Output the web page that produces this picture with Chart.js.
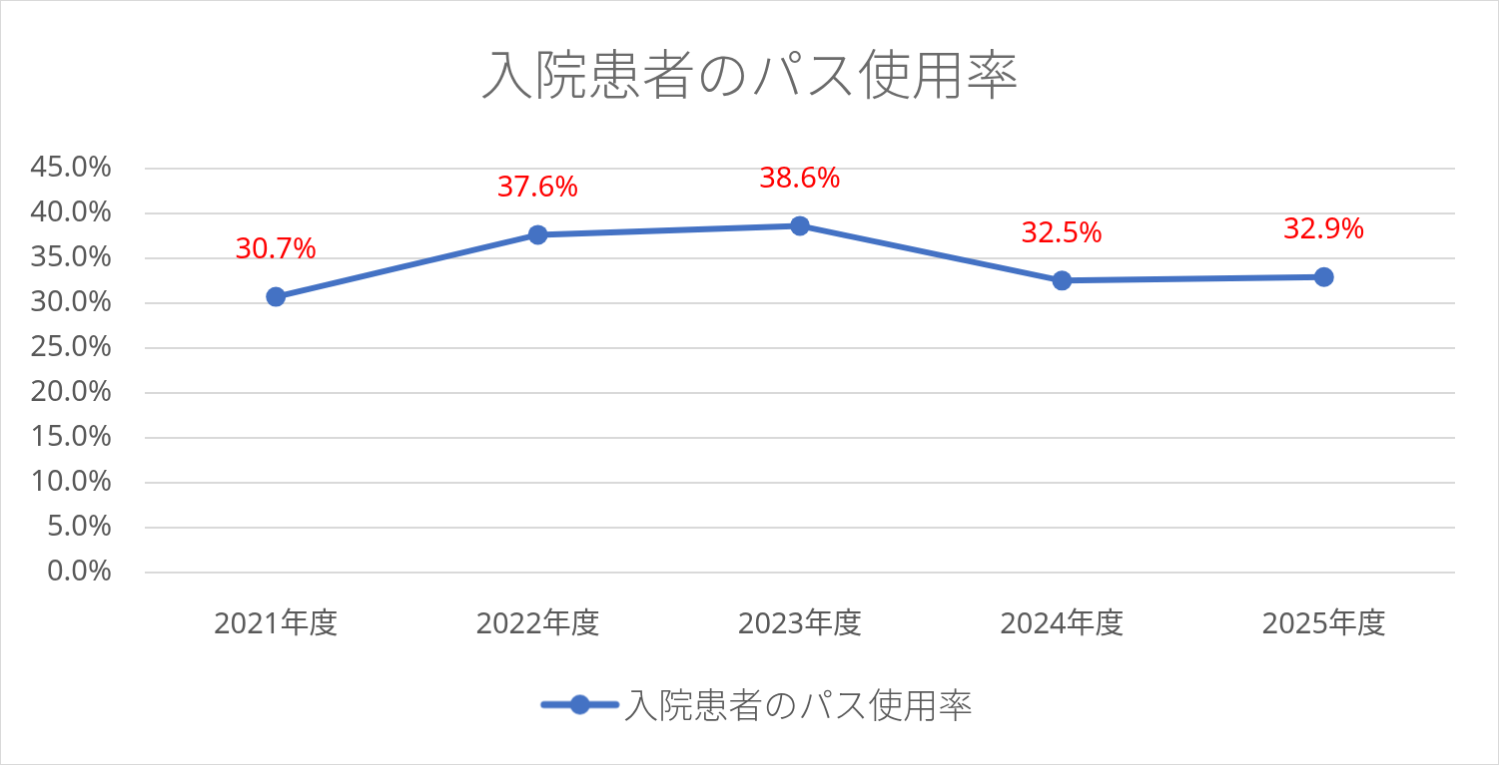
<!DOCTYPE html>
<html>
<head>
<meta charset="utf-8">
<script src="https://cdn.jsdelivr.net/npm/chart.js@4.4.0/dist/chart.umd.min.js"></script>
<style>
  body { margin: 0; background: #fff; }
  #chart { display: block; border: 1px solid #d9d9d9; }
</style>
</head>
<body>
<canvas id="chart" width="1499" height="765"></canvas>
<script>
var chartTitle = "入院患者のパス使用率";
var years = ["2021年度", "2022年度", "2023年度", "2024年度", "2025年度"];
var usageRate = [30.7, 37.6, 38.6, 32.5, 32.9];
var yMin = 0;
var yMax = 45;
var yStep = 5;

var latinFont = "'Noto Sans', 'Noto Sans CJK JP', sans-serif";
var cjkFont = "'Noto Sans CJK JP', 'Noto Sans', sans-serif";
var lineColor = "#4472c4";

// legend marker: short line with a dot, shifted right so it sits close to the text
var legendMarker = document.createElement("canvas");
legendMarker.width = 108;
legendMarker.height = 24;
var mctx = legendMarker.getContext("2d");
mctx.strokeStyle = lineColor;
mctx.lineWidth = 7;
mctx.lineCap = "round";
mctx.beginPath();
mctx.moveTo(32, 12);
mctx.lineTo(104, 12);
mctx.stroke();
mctx.fillStyle = lineColor;
mctx.beginPath();
mctx.arc(68, 12, 10, 0, Math.PI * 2);
mctx.fill();

var valueLabels = {
  id: "valueLabels",
  afterDatasetsDraw: function(chart) {
    var ctx = chart.ctx;
    var meta = chart.getDatasetMeta(0);
    ctx.save();
    ctx.fillStyle = "#ff0000";
    ctx.font = "29px " + latinFont;
    ctx.textAlign = "center";
    ctx.textBaseline = "middle";
    meta.data.forEach(function(pt, i) {
      ctx.fillText(usageRate[i].toFixed(1) + "%", pt.x, pt.y - 47);
    });
    ctx.restore();
  }
};

var chart = new Chart(document.getElementById("chart"), {
  type: "line",
  data: {
    labels: years,
    datasets: [
      {
        label: chartTitle,
        data: usageRate,
        borderColor: lineColor,
        backgroundColor: lineColor,
        borderWidth: 6,
        pointRadius: 10,
        pointHoverRadius: 10,
        pointBackgroundColor: lineColor,
        pointBorderWidth: 0,
        tension: 0,
      },
    ],
  },
  options: {
    responsive: false,
    animation: false,
    devicePixelRatio: 1,
    layout: {
      padding: { left: 0, right: 0, top: 0, bottom: 32 },
    },
    scales: {
      x: {
        offset: true,
        grid: { display: false },
        border: { display: false },
        ticks: {
          color: "#595959",
          font: { size: 29, family: latinFont },
          padding: 27,
        },
        afterFit: function(scale) {
          scale.height = 105;
        },
      },
      y: {
        min: yMin,
        max: yMax,
        grid: { color: "#d9d9d9", lineWidth: 2, drawTicks: false },
        border: { display: false },
        ticks: {
          stepSize: yStep,
          color: "#595959",
          font: { size: 29, family: latinFont },
          padding: 33,
          callback: function(v) {
            return v.toFixed(1) + "%";
          },
        },
        afterFit: function(scale) {
          scale.width = 144;
        },
      },
      // empty right-hand axis, only reserves the right margin
      yRight: {
        position: "right",
        min: yMin,
        max: yMax,
        grid: { display: false },
        border: { display: false },
        ticks: { display: false },
        afterFit: function(scale) {
          scale.width = 43;
        },
      },
    },
    plugins: {
      title: {
        display: true,
        text: chartTitle,
        color: "#6b6b6b",
        font: { size: 54, family: cjkFont, weight: "300" },
        padding: { top: 41, bottom: 62 },
      },
      legend: {
        display: true,
        position: "bottom",
        labels: {
          usePointStyle: true,
          pointStyleWidth: 80,
          color: "#595959",
          font: { size: 35, family: cjkFont, weight: "300" },
          padding: 10,
          generateLabels: function(c) {
            return [
              {
                text: chartTitle,
                pointStyle: legendMarker,
                fillStyle: lineColor,
                strokeStyle: lineColor,
                lineWidth: 0,
                datasetIndex: 0,
                fontColor: "#595959",
              },
            ];
          },
        },
      },
      tooltip: { enabled: false },
    },
  },
  plugins: [valueLabels],
});
</script>
</body>
</html>
